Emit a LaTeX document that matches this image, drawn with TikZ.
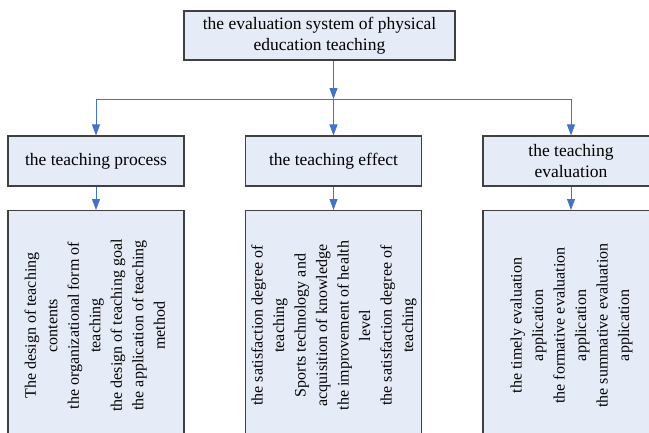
\documentclass[tikz,border=0pt]{standalone}
\usepackage{fontspec}
\setmainfont{Liberation Serif}
\usepackage{tikz}
\definecolor{Pbox}{RGB}{230,236,247}
\definecolor{Pline}{RGB}{64,64,64}
\definecolor{Parr}{RGB}{68,114,196}
\usetikzlibrary{arrows.meta}

\tikzset{
  pebox/.style={draw=Pline, fill=Pbox, line width=1.1pt, inner sep=2pt,
                align=center, font=\fontsize{17.5}{21.5}\selectfont},
  pedet/.style={pebox, minimum width=176pt, minimum height=230pt, anchor=north},
  pearr/.style={draw=Parr, line width=0.9pt, -{Triangle[length=11pt,width=8pt]}},
  peline/.style={draw=Parr, line width=0.9pt}
}
\newcommand{\petext}[1]{\rotatebox{90}{\fontsize{16}{21.5}\selectfont
    \begin{tabular}{@{}c@{}}#1\end{tabular}}}

\begin{document}
\begin{tikzpicture}[x=1pt, y=-1pt]
    \useasboundingbox (0,0) rectangle (649,432);
    % top of the tree
    \node [pebox, minimum width=271pt, minimum height=49pt] (pes) at (319.5,35.5)
        {the evaluation system of physical\\education teaching};
    % the three parts
    \node [pebox, minimum width=176pt, minimum height=50pt] (mid1) at (96,161)
        {the teaching process};
    \node [pebox, minimum width=176pt, minimum height=50pt] (mid2) at (333.5,161)
        {the teaching effect};
    \node [pebox, minimum width=176pt, minimum height=50pt] (mid3) at (571,161)
        {the teaching\\evaluation};
    % the details
    \node [pedet] (det1) at (96,210)
        {\petext{The design of teaching\\contents\\the organizational form of\\teaching\\
                 the design of teaching goal\\the application of teaching\\method}};
    \node [pedet] (det2) at (333.5,210)
        {\petext{the satisfaction degree of\\teaching\\Sports technology and\\
                 acquisition of knowledge\\the improvement of health\\level\\
                 the satisfaction degree of\\teaching}};
    \node [pedet] (det3) at (571,210)
        {\petext{the timely evaluation\\application\\the formative evaluation\\
                 application\\the summative evaluation\\application}};
    \coordinate (bus) at (0,99);
    \draw [pearr] (mid2 |- pes.south) -- (mid2 |- bus);
    \draw [peline] (mid1 |- bus) -- (mid3 |- bus);
    \foreach \i in {1,2,3} {
        \draw [pearr] (mid\i |- bus) -- (mid\i.north);
        \draw [pearr] (mid\i.south) -- (det\i.north);
    }
\end{tikzpicture}
\end{document}
